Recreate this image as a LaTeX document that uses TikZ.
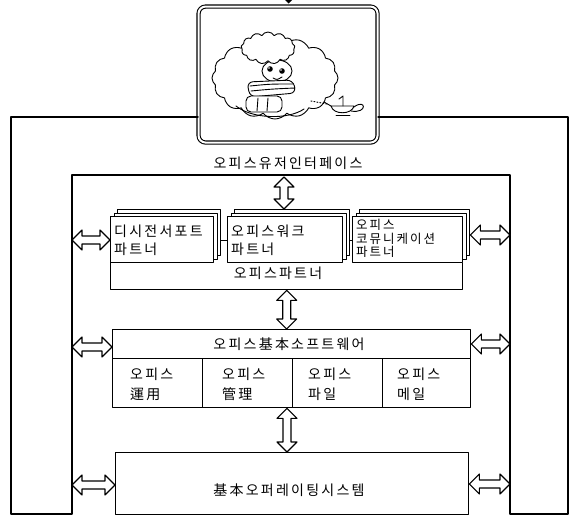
\documentclass[tikz,border=0pt]{standalone}
\usepackage{fontspec}
\newfontfamily\krfont[LetterSpace=16]{Noto Sans CJK KR}
\usetikzlibrary{calc,shapes.symbols}

\begin{document}
\begin{tikzpicture}[x=1pt,y=-1pt,line join=round,line cap=round,
  wire/.style={line width=1.5pt},
  blk/.style={draw,fill=white,line width=1.4pt,inner sep=0pt,anchor=north west},
  lbl/.style={font=\krfont\fontsize{14}{18}\selectfont,inner sep=0pt,align=left},
  sketch/.style={line width=0.9pt},
  dblarrow/.style={draw,fill=white,line width=1.1pt,to path={
    let \p1=(\tikztostart),\p2=(\tikztotarget),
        \n1={atan2(\y2-\y1,\x2-\x1)},\n2={veclen(\x2-\x1,\y2-\y1)} in
    [shift={(\p1)},rotate=\n1]
    (0,0) -- (10,10) -- (10,4) -- (\n2-10,4) -- (\n2-10,10) -- (\n2,0)
    -- (\n2-10,-10) -- (\n2-10,-4) -- (10,-4) -- (10,-10) -- cycle}}]
\useasboundingbox (0,0) rectangle (573,517);

% ---- user screen at the top ----
\fill (285,0) -- (292,0) -- (288.5,3.5) -- cycle;
\node[draw,double,double distance=2pt,line width=1.1pt,rounded corners=7pt,
      minimum width=179pt,minimum height=136pt,inner sep=0pt,anchor=north west]
      (ui) at (198,6) {};

% thought cloud with the user inside
\node[cloud,cloud puffs=16,cloud puff arc=105,draw,sketch,
      minimum width=126pt,minimum height=82pt,inner sep=0pt] (dream) at (275,78) {};
\draw[sketch,fill=white] (277,71) ellipse [x radius=15,y radius=11];
\fill (270,69) circle [radius=2.8];
\fill (282,71) circle [radius=2.8];
\fill[white] (269,68) circle [radius=0.8];
\fill[white] (281,70) circle [radius=0.8];
\draw[sketch] (273,78) .. controls (277,80) .. (282,77);
\node[cloud,cloud puffs=13,cloud puff arc=120,draw,fill=white,sketch,
      minimum width=54pt,minimum height=32pt,inner sep=0pt] (hair) at (268,48) {};
% scarf
\draw[sketch,fill=white,rounded corners=6pt] (247,82) -- (293,80) -- (296,93) -- (250,97) -- cycle;
\draw[sketch] (250,86) .. controls (270,84) .. (293,84);
\draw[sketch] (251,91) .. controls (272,89) .. (295,88);
% arms and hands
\draw[sketch,fill=white,rounded corners=5pt] (246,96) rectangle (282,112);
\draw[sketch] (258,98) -- (257,111);
\draw[sketch] (268,98) -- (267,111);
\draw[sketch] (236,106) .. controls (252,119) and (288,120) .. (304,109);

% magic lamp
\draw[dotted,line width=1pt] (311,101) -- (327,104);
\draw[sketch,fill=white] (331,106) .. controls (333,115) and (352,115) .. (354,106) -- cycle;
\draw[sketch] (331,106) -- (324,102);
\draw[sketch] (354,107) .. controls (366,98) and (368,114) .. (351,111);
\draw[sketch] (343,106) -- (343,96) -- (339,99);
\draw[sketch] (336,115.5) -- (350,115.5);

% ---- interface band ----
\coordinate (ftop) at (0,117);
\draw[wire] (ui.west |- ftop) -- (11,117) -- (11,514) -- (72,514) -- (72,175)
  -- (510,175) -- (510,514) -- (568,514) -- (568,117) -- (ui.east |- ftop);
\node[lbl] (uil) at (288,163) {오피스유저인터페이스};

% ---- office partners ----
\node[blk,minimum width=352pt,minimum height=49pt] (pbox) at (110,240) {};
\node[lbl] (pl) at (278,273) {오피스파트너};

\node[blk,minimum width=103pt,minimum height=46pt] (c1b2) at (117,209) {};
\node[blk,minimum width=103pt,minimum height=46pt] (c1b1) at (113.5,212.5) {};
\node[blk,minimum width=103pt,minimum height=46pt] (c1) at (110,216) {};
\node[lbl,anchor=north west] (c1t) at (114,225) {디시전서포트\\파트너};

\node[blk,minimum width=115pt,minimum height=46pt] (c2b2) at (234,209) {};
\node[blk,minimum width=115pt,minimum height=46pt] (c2b1) at (230.5,212.5) {};
\node[blk,minimum width=115pt,minimum height=46pt] (c2) at (227,216) {};
\node[lbl,anchor=north west] (c2t) at (231,225) {오피스워크\\파트너};

\node[blk,minimum width=110pt,minimum height=46pt] (c3b2) at (359,209) {};
\node[blk,minimum width=110pt,minimum height=46pt] (c3b1) at (355.5,212.5) {};
\node[blk,minimum width=110pt,minimum height=46pt] (c3) at (352,216) {};
\node[lbl,anchor=north west,font=\krfont\fontsize{12.5}{13.5}\selectfont] (c3t) at (356,219)
  {오피스\\코뮤니케이션\\파트너};

% ---- office basic software ----
\node[blk,minimum width=358pt,minimum height=29pt] (sh) at (112,329) {};
\node[lbl] (shl) at (289,344) {오피스基本소프트웨어};
\node[blk,minimum width=90pt,minimum height=49pt] (s1) at (112,358) {};
\node[blk,minimum width=90pt,minimum height=49pt] (s2) at (202,358) {};
\node[blk,minimum width=90pt,minimum height=49pt] (s3) at (292,358) {};
\node[blk,minimum width=88pt,minimum height=49pt] (s4) at (382,358) {};
\node[lbl,anchor=north west,font=\krfont\fontsize{14}{20}\selectfont] (s1t) at (130,368) {오피스\\運用};
\node[lbl,anchor=north west,font=\krfont\fontsize{14}{20}\selectfont] (s2t) at (222,368) {오피스\\管理};
\node[lbl,anchor=north west,font=\krfont\fontsize{14}{20}\selectfont] (s3t) at (308,368) {오피스\\파일};
\node[lbl,anchor=north west,font=\krfont\fontsize{14}{20}\selectfont] (s4t) at (397,368) {오피스\\메일};

% ---- operating system ----
\node[blk,minimum width=353pt,minimum height=62pt] (os) at (115,452) {};
\node[lbl] (osl) at (289,490) {基本오퍼레이팅시스템};

% ---- vertical links ----
\coordinate (a1) at (284,177);
\draw[dblarrow] (a1) to (a1 |- c2b2.north);
\draw[dblarrow] (pbox.south) to (pbox.south |- sh.north);
\coordinate (a3) at (287,0);
\draw[dblarrow] (a3 |- s2.south) to (a3 |- os.north);

% ---- side links to the interface band ----
\coordinate (l1) at (72,240);
\coordinate (l2) at (72,347);
\coordinate (l3) at (72,485);
\coordinate (r1) at (510,235);
\coordinate (r2) at (510,344);
\coordinate (r3) at (510,484);
\draw[dblarrow] (l1) to (l1 -| pbox.west);
\draw[dblarrow] (l2) to (l2 -| sh.west);
\draw[dblarrow] (l3) to (l3 -| os.west);
\draw[dblarrow] (r1 -| c3b2.east) to (r1);
\draw[dblarrow] (r2 -| sh.east) to (r2);
\draw[dblarrow] (r3 -| os.east) to (r3);
\end{tikzpicture}
\end{document}
